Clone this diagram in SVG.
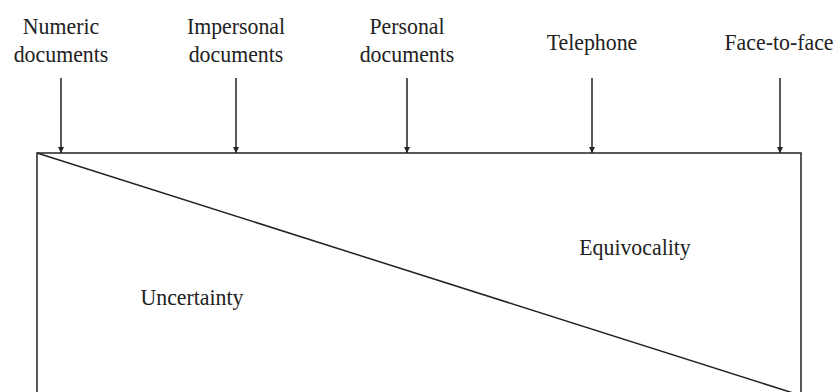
<svg xmlns="http://www.w3.org/2000/svg" width="839" height="392" viewBox="0 0 839 392">
  <style>
    .lbl { font-family: "Liberation Serif", "Times New Roman", serif; font-size: 24px; fill: #222; text-anchor: middle; }
    .edge { stroke: #222; stroke-width: 1.5; fill: none; }
    .arrow { stroke: #222; stroke-width: 1.5; fill: none; marker-end: url(#head); }
  </style>
  <defs>
    <marker id="head" viewBox="0 0 10 10" refX="10" refY="5" markerWidth="6" markerHeight="6" markerUnits="userSpaceOnUse" orient="auto">
      <path d="M0,0 L10,5 L0,10 Z" fill="#222"/>
    </marker>
  </defs>

  <rect width="839" height="392" fill="#fff"/>

  <!-- media richness scale -->
  <g id="media-box">
    <path class="edge" d="M37,400 L37,153 L801,153 L801,400"/>
    <line class="edge" x1="37" y1="153" x2="801" y2="395.5"/>
  </g>

  <!-- labels are slightly condensed horizontally -->
  <g id="numeric">
    <text class="lbl" transform="translate(61,34) scale(0.91,1)">Numeric</text>
    <text class="lbl" transform="translate(61,62) scale(0.91,1)">documents</text>
  </g>
  <g id="impersonal">
    <text class="lbl" transform="translate(236,34) scale(0.91,1)">Impersonal</text>
    <text class="lbl" transform="translate(236,62) scale(0.91,1)">documents</text>
  </g>
  <g id="personal">
    <text class="lbl" transform="translate(407,34) scale(0.91,1)">Personal</text>
    <text class="lbl" transform="translate(407,62) scale(0.91,1)">documents</text>
  </g>
  <g id="telephone">
    <text class="lbl" transform="translate(592,50) scale(0.91,1)">Telephone</text>
  </g>
  <g id="face-to-face">
    <text class="lbl" transform="translate(779,50) scale(0.91,1)">Face-to-face</text>
  </g>

  <g id="uncertainty">
    <text class="lbl" transform="translate(192,305) scale(0.91,1)">Uncertainty</text>
  </g>
  <g id="equivocality">
    <text class="lbl" transform="translate(635,255) scale(0.91,1)">Equivocality</text>
  </g>

  <g id="connectors">
    <line class="arrow" x1="61" y1="78" x2="61" y2="153"/>
    <line class="arrow" x1="236" y1="78" x2="236" y2="153"/>
    <line class="arrow" x1="407" y1="78" x2="407" y2="153"/>
    <line class="arrow" x1="592" y1="78" x2="592" y2="153"/>
    <line class="arrow" x1="780" y1="78" x2="780" y2="153"/>
  </g>
</svg>
